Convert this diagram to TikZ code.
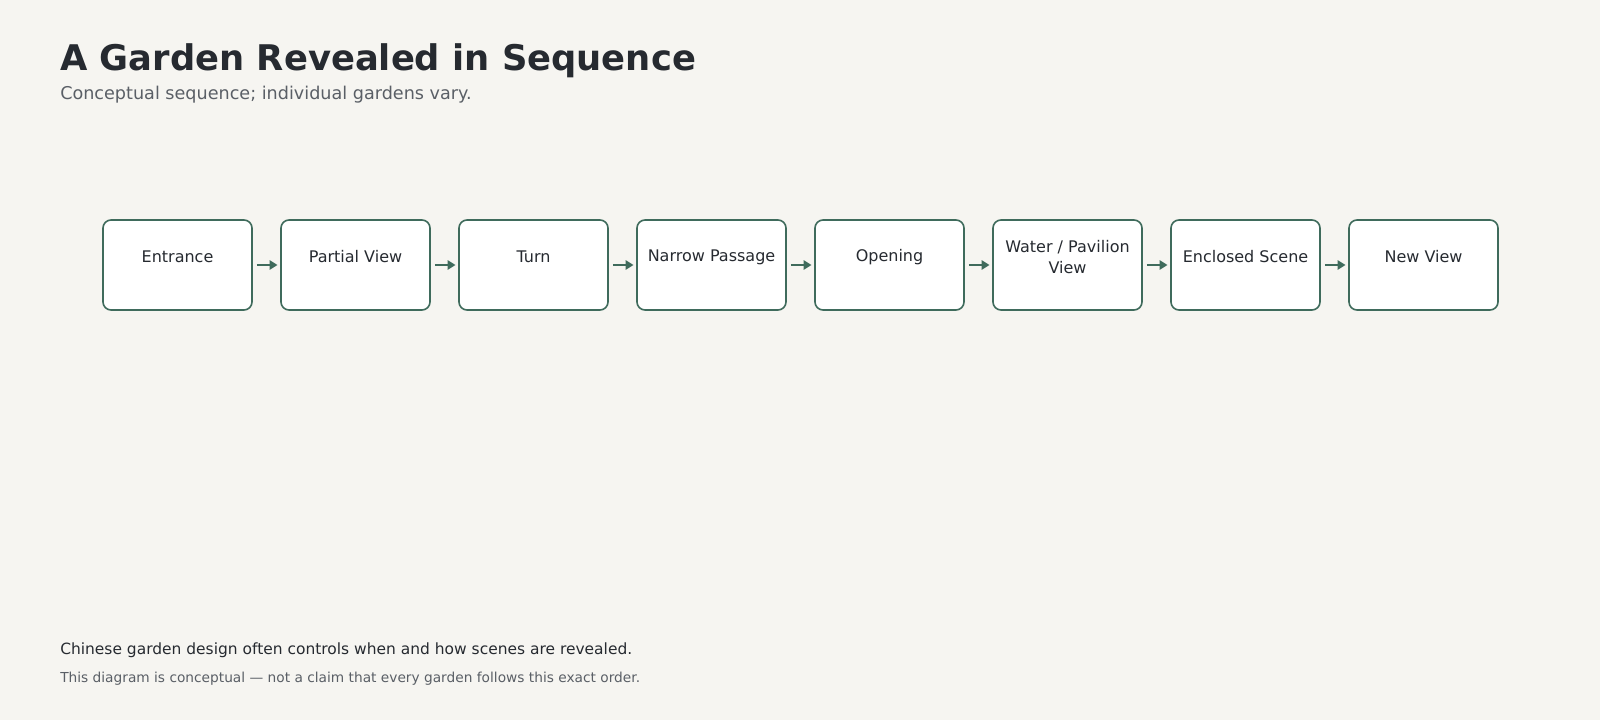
\documentclass[tikz,border=0pt]{standalone}
\usepackage{fontspec}
\setmainfont{DejaVu Sans}
\usetikzlibrary{arrows.meta}
\definecolor{bg}{HTML}{F6F5F1}
\definecolor{ink}{HTML}{262A30}
\definecolor{sub}{HTML}{5A5F66}
\definecolor{grn}{HTML}{3F6B5C}
\begin{document}
\begin{tikzpicture}[x=0.75pt,y=-0.75pt,
  box/.style={draw=grn,line width=1.2pt,fill=white,rounded corners=6pt,minimum width=111.75pt,minimum height=67.5pt,inner sep=0pt},
  lab/.style={font=\fontsize{12}{16}\selectfont,text=ink,align=center},
  arr/.style={-{Triangle[length=6pt,width=7pt]},draw=grn,line width=2pt}]
\fill[bg] (0,0) rectangle (1600,720);
\useasboundingbox (0,0) rectangle (1600,720);
\node[anchor=base west,font=\fontsize{26.5}{32}\selectfont\bfseries,text=ink,inner sep=0pt] (t) at (60,71) {A Garden Revealed in Sequence};
\node[anchor=base west,font=\fontsize{13.2}{16}\selectfont,text=sub,inner sep=0pt] (s) at (60,100) {Conceptual sequence; individual gardens vary.};
\foreach \i/\t in {0/Entrance,1/Partial View,2/Turn,3/Narrow Passage,4/Opening,5/{Water / Pavilion\\View},6/Enclosed Scene,7/New View}{
  \node[box] (b\i) at (177.5+\i*178,265) {};
  \node[lab] (l\i) at (177.5+\i*178,257) {\t};
}
\foreach \i [evaluate=\i as \j using int(\i+1)] in {0,...,6}{
  \draw[arr] ([xshift=3pt]b\i.east) -- ([xshift=-2pt]b\j.west);
}
\node[anchor=base west,font=\fontsize{11.6}{14}\selectfont,text=ink,inner sep=0pt] (f1) at (60,654) {Chinese garden design often controls when and how scenes are revealed.};
\node[anchor=base west,font=\fontsize{10.3}{12}\selectfont,text=sub,inner sep=0pt] (f2) at (60,682) {This diagram is conceptual — not a claim that every garden follows this exact order.};
\end{tikzpicture}
\end{document}
